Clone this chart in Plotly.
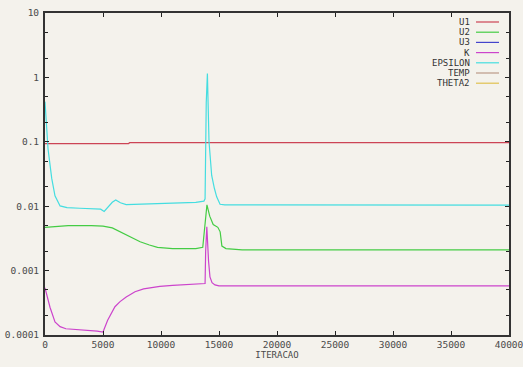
import plotly.graph_objects as go

# ---------------- data ----------------
U1_X = [0, 7200, 7300, 40000]
U1_Y = [0.094, 0.094, 0.097, 0.097]

EPS_X = [0, 100, 260, 580, 860, 1300, 1900, 3000, 4000, 4800, 5100, 5400, 5800, 6100, 6500,
         7000, 7900, 9000, 10000, 11000, 12000, 13000, 13700, 13800, 13900, 14000, 14140,
         14370, 14600, 14800, 15090, 15500, 17000, 20000, 25000, 30000, 35000, 40000]
EPS_Y = [0.42, 0.2, 0.078, 0.027, 0.0145, 0.0101, 0.0095, 0.0093, 0.0092, 0.0090, 0.0083,
         0.0095, 0.0115, 0.0125, 0.0113, 0.0106, 0.0107, 0.0108, 0.0110, 0.0110, 0.0112,
         0.0115, 0.0120, 0.013, 0.4, 1.15, 0.1, 0.03, 0.019, 0.014, 0.0107, 0.0105, 0.0105,
         0.0105, 0.0104, 0.0104, 0.0104, 0.0104]

U2_X = [0, 500, 2000, 4000, 5000, 5800, 6500, 7200, 8200, 9000, 9700, 11000, 12000, 13000,
        13600, 13800, 13960, 14200, 14500, 14900, 15100, 15250, 15600, 17000, 20000, 25000,
        30000, 35000, 40000]
U2_Y = [0.0047, 0.0048, 0.0050, 0.0050, 0.0049, 0.0046, 0.0040, 0.0034, 0.0028, 0.0025,
        0.0023, 0.0022, 0.0022, 0.0022, 0.0023, 0.0055, 0.0105, 0.0070, 0.0052, 0.0047,
        0.0040, 0.0024, 0.0022, 0.0021, 0.0021, 0.0021, 0.0021, 0.0021, 0.0021]

K_X = [0, 200, 430, 860, 1300, 1800, 2500, 3500, 4500, 5000, 5400, 6030, 6470, 7000, 7760,
       8500, 9900, 11000, 12000, 13000, 13800, 13850, 13950, 14100, 14220, 14400, 14650,
       15000, 16000, 20000, 25000, 30000, 35000, 40000]
K_Y = [0.00054, 0.00040, 0.00027, 0.000159, 0.000135, 0.000125, 0.000123, 0.00012,
       0.000115, 0.000111, 0.00017, 0.000275, 0.00033, 0.00039, 0.00047, 0.00052, 0.00057,
       0.00059, 0.0006, 0.00062, 0.00063, 0.002, 0.0048, 0.0014, 0.0008, 0.00065, 0.0006,
       0.00058, 0.00058, 0.00058, 0.00058, 0.00058, 0.00058, 0.00058]

SERIES = ["U1", "U2", "U3", "K", "EPSILON", "TEMP", "THETA2"]
LINE_COLORS = {"U1": "#cc4455", "U2": "#44cc44", "U3": "#4444cc", "K": "#cc44cc",
               "EPSILON": "#44dde0", "TEMP": "#bb9988", "THETA2": "#e0c050"}
DATA = {"U1": (U1_X, U1_Y), "U2": (U2_X, U2_Y), "U3": ([], []), "K": (K_X, K_Y),
        "EPSILON": (EPS_X, EPS_Y), "TEMP": ([], []), "THETA2": ([], [])}

X_TICKS = [0, 5000, 10000, 15000, 20000, 25000, 30000, 35000, 40000]
Y_TICKS = [0.0001, 0.001, 0.01, 0.1, 1, 10]
Y_TICK_TEXT = ["0.0001", "0.001", "0.01", "0.1", "1", "10"]

# ---------------- figure ----------------
BG = "#f4f2ec"
fig = go.Figure()
for name in SERIES:
    xs, ys = DATA[name]
    fig.add_trace(go.Scatter(x=xs, y=ys, mode="lines", name=name,
                             line=dict(color=LINE_COLORS[name], width=1.2),
                             showlegend=False))

W, H = 523, 367
L, R, T, B = 45, 14, 13, 32
font_mono = "DejaVu Sans Mono"

minor_vals = [m * 10.0 ** e for e in range(-4, 1) for m in (2, 5)]

fig.update_layout(
    width=W, height=H,
    margin=dict(l=L, r=R, t=T, b=B),
    paper_bgcolor=BG, plot_bgcolor=BG,
    font=dict(family=font_mono, size=9, color="#4a4a4a"),
    xaxis=dict(range=[0, 40000], tickvals=X_TICKS, ticktext=[str(v) for v in X_TICKS],
               ticks="inside", ticklen=4, tickwidth=1, tickcolor="#222222",
               showline=True, linecolor="#333333", linewidth=2, mirror="ticks",
               showgrid=False, zeroline=False, automargin=False,
               ticklabeloverflow="allow", tickfont=dict(size=9.5),
               title=dict(text="ITERACAO", font=dict(size=9, family=font_mono), standoff=1)),
    yaxis=dict(type="log", range=[-4, 1], tickvals=Y_TICKS, ticktext=Y_TICK_TEXT,
               ticks="inside", ticklen=4, tickwidth=1, tickcolor="#222222",
               showline=True, linecolor="#333333", linewidth=2, mirror="ticks",
               showgrid=False, zeroline=False, automargin=False,
               ticklabeloverflow="allow", tickfont=dict(size=9.5), ticklabelstandoff=2,
               minor=dict(tickvals=minor_vals, ticks="inside", ticklen=3,
                          tickcolor="#222222", showgrid=False)),
)

# manual legend: right-aligned label, line sample to its right (gnuplot style)
plot_w = W - L - R
plot_h = H - T - B
def px_to_paper_x(px):
    return (px - L) / plot_w
def px_to_paper_y(py):
    return 1 - (py - T) / plot_h

for i, name in enumerate(SERIES):
    ypx = 22 + i * 10.2
    fig.add_annotation(x=px_to_paper_x(472), y=px_to_paper_y(ypx), xref="paper", yref="paper",
                       text=name, showarrow=False, xanchor="right", yanchor="middle",
                       font=dict(size=9, family=font_mono, color="#333333"))
    fig.add_shape(type="line", xref="paper", yref="paper",
                  x0=px_to_paper_x(476), x1=px_to_paper_x(499),
                  y0=px_to_paper_y(ypx), y1=px_to_paper_y(ypx),
                  line=dict(color=LINE_COLORS[name], width=1.2))

fig.write_html("out.html")
